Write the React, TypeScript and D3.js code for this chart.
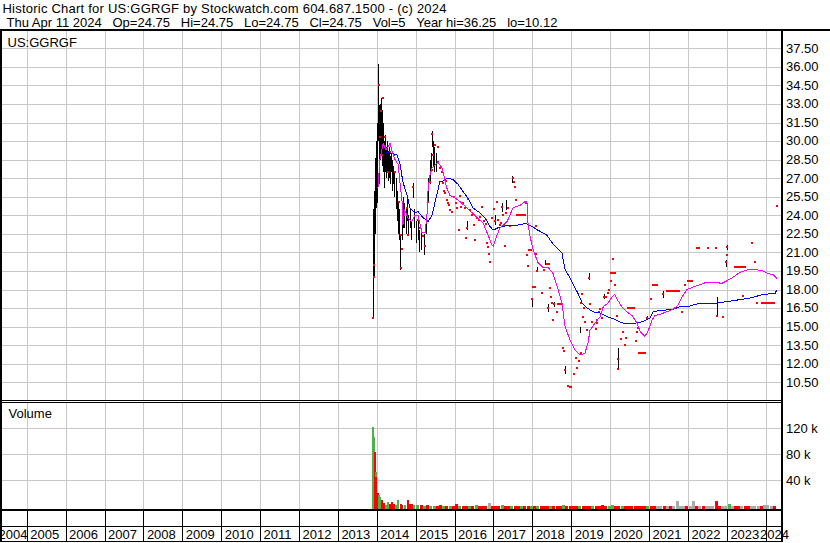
import * as d3 from "d3";

const FONT = "'Liberation Sans', Arial, sans-serif";
const GRID = "#c8c8c8";

const years = [2004, 2005, 2006, 2007, 2008, 2009, 2010, 2011, 2012, 2013, 2014, 2015, 2016, 2017, 2018, 2019, 2020, 2021, 2022, 2023, 2024];
const priceTicks = [10.5, 12, 13.5, 15, 16.5, 18, 19.5, 21, 22.5, 24, 25.5, 27, 28.5, 30, 31.5, 33, 34.5, 36, 37.5];
const volTicks = [40000, 80000, 120000];
const volTickLabels = ["40 k", "80 k", "120 k"];

// black high-low bars: [year, high, low]
const rangeBars: [number, number, number][] = [
  [2013.9, 24.5, 15.6], [2013.93, 26.0, 19.0], [2013.95, 28.6, 22.5], [2013.98, 30.0, 24.6],
  [2014.01, 31.5, 25.0], [2014.03, 36.25, 30.0], [2014.06, 32.9, 26.5], [2014.08, 33.0, 28.5],
  [2014.11, 33.5, 29.0], [2014.13, 32.5, 28.0], [2014.16, 31.5, 27.5], [2014.19, 30.0, 26.2],
  [2014.21, 30.5, 27.5], [2014.24, 29.5, 27.0], [2014.26, 30.0, 27.5], [2014.29, 29.2, 26.8],
  [2014.31, 29.5, 27.0], [2014.34, 28.8, 26.5], [2014.37, 29.0, 27.5], [2014.39, 28.5, 26.0],
  [2014.42, 28.0, 26.5], [2014.44, 27.5, 25.5], [2014.49, 27.0, 24.5], [2014.52, 26.0, 23.5],
  [2014.55, 25.0, 22.5], [2014.57, 24.5, 22.0], [2014.6, 22.5, 19.6], [2014.65, 24.5, 22.0],
  [2014.67, 25.5, 23.0], [2014.7, 25.0, 23.0], [2014.75, 24.5, 22.5], [2014.78, 25.5, 23.5],
  [2014.8, 24.0, 22.5], [2014.85, 24.5, 23.0], [2014.88, 23.5, 22.0], [2014.93, 26.6, 25.4],
  [2014.96, 24.5, 23.0], [2015.01, 23.5, 21.8], [2015.06, 23.5, 22.0], [2015.08, 22.8, 21.0],
  [2015.14, 23.0, 21.2], [2015.21, 22.5, 20.8], [2015.27, 24.0, 22.5], [2015.32, 27.0, 25.0],
  [2015.37, 28.5, 26.5], [2015.39, 29.0, 27.5], [2015.42, 30.8, 29.5], [2015.45, 30.0, 28.0],
  [2015.47, 29.5, 27.5], [2015.52, 29.0, 27.5], [2016.32, 23.5, 22.8], [2017.04, 24.0, 23.2],
  [2017.22, 25.0, 24.3], [2017.32, 25.2, 24.4], [2017.48, 27.2, 26.6], [2017.99, 17.3, 16.6],
  [2018.12, 19.8, 19.4], [2018.32, 20.4, 20.0], [2018.4, 16.8, 16.2], [2018.55, 17.0, 16.6],
  [2018.84, 11.8, 11.2], [2019.22, 15.0, 14.5], [2019.46, 19.3, 18.8], [2019.84, 17.6, 17.2],
  [2020.19, 13.3, 11.5], [2020.95, 15.9, 15.5], [2021.36, 17.9, 17.3], [2022.75, 17.4, 15.8],
  [2022.98, 20.4, 19.8], [2023.0, 21.6, 21.2],
];

// red close marks: [year, price]
const closeMarks: [number, number][] = [
  [2013.9, 15.7], [2013.93, 19.0], [2013.93, 20.0], [2014.06, 34.5], [2014.17, 33.5], [2014.11, 32.4],
  [2014.08, 30.3], [2014.21, 30.3], [2014.13, 28.9], [2014.34, 29.1], [2014.28, 27.5], [2014.47, 27.5],
  [2014.44, 28.9], [2014.56, 25.1], [2014.61, 22.4], [2014.61, 19.7], [2014.66, 21.3], [2014.77, 24.6],
  [2014.81, 22.4], [2014.94, 26.3], [2015.07, 23.6], [2015.11, 23.0], [2015.19, 22.3], [2015.24, 21.5],
  [2015.32, 25.1], [2015.37, 26.7], [2015.41, 27.7], [2015.45, 28.9], [2015.5, 29.7], [2015.42, 30.6],
  [2015.58, 28.3], [2015.58, 29.5], [2015.62, 27.8], [2015.68, 27.5], [2015.69, 26.6], [2015.73, 26.0],
  [2015.75, 25.8], [2015.78, 26.8], [2015.8, 25.2], [2015.83, 25.0], [2015.86, 24.8], [2015.88, 24.4],
  [2015.93, 24.3], [2015.98, 25.5], [2016.04, 25.0], [2016.06, 24.6], [2016.11, 22.8], [2016.14, 25.6],
  [2016.16, 24.7], [2016.22, 25.0], [2016.27, 24.6], [2016.29, 22.2], [2016.32, 23.0], [2016.34, 25.3],
  [2016.4, 24.4], [2016.45, 24.0], [2016.5, 23.2], [2016.52, 22.0], [2016.58, 23.8], [2016.63, 23.6],
  [2016.65, 23.9], [2016.7, 24.7], [2016.76, 23.5], [2016.81, 23.3], [2016.83, 21.8], [2016.86, 21.4],
  [2016.88, 20.9], [2016.91, 20.2], [2016.96, 23.8], [2017.01, 24.5], [2017.04, 23.5], [2017.09, 25.1],
  [2017.12, 23.6], [2017.17, 23.2], [2017.19, 23.4], [2017.22, 24.7], [2017.24, 24.0], [2017.27, 23.2],
  [2017.3, 21.5], [2017.32, 24.2], [2017.37, 24.6], [2017.42, 23.1], [2017.5, 27.0], [2017.53, 26.7],
  [2017.55, 26.3], [2017.57, 25.2], [2017.6, 24.0], [2017.66, 24.0], [2017.71, 24.0], [2017.76, 24.0],
  [2017.81, 24.0], [2017.84, 25.0], [2017.86, 20.8], [2017.89, 19.9], [2017.91, 21.2], [2017.96, 21.2],
  [2017.99, 17.2], [2018.02, 18.2], [2018.07, 18.2], [2018.09, 23.1], [2018.1, 20.9], [2018.12, 19.5],
  [2018.25, 17.7], [2018.3, 19.6], [2018.37, 20.1], [2018.43, 20.1], [2018.4, 16.5], [2018.45, 18.1],
  [2018.48, 17.4], [2018.5, 16.9], [2018.53, 15.5], [2018.56, 16.8], [2018.63, 16.2], [2018.66, 16.8],
  [2018.71, 16.8], [2018.76, 16.8], [2018.79, 13.3], [2018.81, 13.0], [2018.84, 11.5], [2018.92, 10.2],
  [2018.97, 10.12], [2019.0, 10.15], [2019.07, 11.2], [2019.12, 12.5], [2019.15, 11.65], [2019.2, 12.2],
  [2019.24, 12.9], [2019.25, 16.9], [2019.28, 17.6], [2019.3, 15.8], [2019.33, 16.5], [2019.35, 15.4],
  [2019.4, 14.7], [2019.46, 18.9], [2019.48, 16.8], [2019.53, 15.4], [2019.64, 14.8], [2019.65, 15.3],
  [2019.66, 15.5], [2019.71, 16.2], [2019.74, 16.4], [2019.79, 15.7], [2019.84, 17.4], [2019.89, 17.4],
  [2019.94, 17.7], [2019.97, 18.0], [2020.02, 19.3], [2020.02, 18.7], [2020.06, 20.5], [2020.07, 19.3],
  [2020.12, 19.3], [2020.12, 18.4], [2020.17, 15.9], [2020.2, 12.4], [2020.2, 11.6], [2020.28, 14.0],
  [2020.33, 14.6], [2020.38, 13.5], [2020.41, 14.1], [2020.46, 16.5], [2020.51, 16.5], [2020.56, 16.5],
  [2020.61, 16.5], [2020.66, 13.8], [2020.69, 14.6], [2020.72, 14.9], [2020.74, 12.9], [2020.79, 12.9],
  [2020.84, 12.9], [2020.9, 12.9], [2020.95, 15.7], [2021.05, 17.2], [2021.1, 18.4], [2021.15, 18.4],
  [2021.2, 18.4], [2021.36, 17.6], [2021.46, 17.9], [2021.51, 17.9], [2021.56, 17.9], [2021.61, 17.9],
  [2021.67, 17.9], [2021.72, 17.9], [2021.77, 17.9], [2021.85, 16.2], [2021.92, 18.4], [2022.0, 18.7],
  [2022.05, 18.7], [2022.1, 18.7], [2022.23, 21.35], [2022.28, 21.35], [2022.51, 21.35], [2022.72, 21.35],
  [2022.75, 15.9], [2022.9, 15.8], [2022.98, 20.2], [2023.0, 21.4], [2023.0, 20.8], [2023.21, 19.8],
  [2023.26, 19.8], [2023.31, 19.8], [2023.36, 19.8], [2023.41, 19.8], [2023.46, 19.8], [2023.41, 17.5],
  [2023.64, 21.8], [2023.72, 20.2], [2023.77, 16.9], [2023.9, 16.95], [2023.95, 16.95], [2024.0, 16.95],
  [2024.05, 16.95], [2024.11, 16.95], [2024.16, 16.95], [2024.21, 16.95], [2024.29, 24.75],
];

// magenta (short) moving average
const maShort: [number, number][] = [
  [2014.03, 26.2], [2014.08, 28.5], [2014.16, 29.8], [2014.24, 29.3], [2014.34, 29.8], [2014.42, 28.9],
  [2014.47, 28.5], [2014.55, 28.1], [2014.6, 26.5], [2014.65, 25.1], [2014.67, 23.2], [2014.72, 24.4],
  [2014.8, 23.8], [2014.9, 23.5], [2014.98, 24.0], [2015.06, 24.0], [2015.16, 22.6], [2015.24, 22.6],
  [2015.29, 24.0], [2015.32, 26.2], [2015.37, 27.3], [2015.42, 27.8], [2015.5, 28.1], [2015.57, 28.3],
  [2015.68, 27.8], [2015.8, 26.2], [2015.88, 25.6], [2016.01, 25.4], [2016.14, 25.1], [2016.32, 24.6],
  [2016.45, 24.2], [2016.58, 23.8], [2016.73, 23.4], [2016.86, 22.4], [2016.96, 21.6], [2016.99, 21.5],
  [2017.09, 22.4], [2017.17, 23.0], [2017.35, 23.5], [2017.42, 24.0], [2017.5, 24.6], [2017.68, 24.8],
  [2017.81, 25.1], [2017.86, 25.1], [2017.89, 23.2], [2017.94, 22.3], [2018.02, 21.2], [2018.14, 20.2],
  [2018.27, 19.8], [2018.4, 19.8], [2018.53, 19.3], [2018.66, 18.0], [2018.76, 16.9], [2018.84, 15.0],
  [2018.97, 13.9], [2019.1, 13.1], [2019.22, 12.7], [2019.35, 12.85], [2019.43, 13.7], [2019.48, 14.7],
  [2019.61, 15.3], [2019.74, 15.8], [2019.82, 16.6], [2019.94, 16.9], [2020.05, 17.4], [2020.12, 17.6],
  [2020.2, 17.1], [2020.3, 16.6], [2020.43, 16.2], [2020.56, 15.9], [2020.69, 15.3], [2020.77, 14.6],
  [2020.89, 14.2], [2020.97, 14.6], [2021.07, 15.5], [2021.15, 15.9], [2021.28, 16.0], [2021.46, 16.2],
  [2021.61, 16.4], [2021.74, 16.7], [2021.85, 17.4], [2021.97, 18.0], [2022.13, 18.2], [2022.31, 18.4],
  [2022.49, 18.6], [2022.64, 18.6], [2022.87, 18.5], [2023.0, 18.7], [2023.16, 19.0], [2023.34, 19.4],
  [2023.54, 19.6], [2023.77, 19.6], [2023.93, 19.5], [2024.06, 19.3], [2024.19, 19.2], [2024.29, 18.9],
];

// blue (long) moving average
const maLong: [number, number][] = [
  [2014.24, 29.1], [2014.39, 29.0], [2014.52, 28.9], [2014.6, 28.1], [2014.67, 26.7], [2014.78, 25.6],
  [2014.85, 24.6], [2014.98, 24.2], [2015.06, 24.3], [2015.19, 23.8], [2015.32, 23.5], [2015.42, 24.0],
  [2015.5, 25.1], [2015.62, 26.7], [2015.67, 26.7], [2015.8, 27.0], [2015.96, 26.9], [2016.09, 26.5],
  [2016.22, 25.9], [2016.34, 25.4], [2016.47, 24.6], [2016.65, 24.2], [2016.78, 23.8], [2016.91, 23.1],
  [2016.99, 22.8], [2017.12, 23.0], [2017.24, 23.1], [2017.42, 23.2], [2017.6, 23.2], [2017.76, 23.3],
  [2017.86, 23.3], [2017.99, 23.1], [2018.14, 22.8], [2018.37, 22.4], [2018.5, 21.8], [2018.63, 21.35],
  [2018.76, 20.95], [2018.84, 19.6], [2018.92, 19.2], [2019.02, 18.6], [2019.1, 18.1], [2019.17, 17.7],
  [2019.28, 16.9], [2019.41, 16.5], [2019.56, 16.2], [2019.74, 16.1], [2019.92, 15.8], [2020.12, 15.6],
  [2020.3, 15.3], [2020.51, 15.25], [2020.69, 15.3], [2020.84, 15.4], [2021.02, 15.7], [2021.1, 16.2],
  [2021.28, 16.3], [2021.61, 16.4], [2021.79, 16.6], [2021.97, 16.6], [2022.31, 16.9], [2022.75, 16.9],
  [2023.16, 17.1], [2023.59, 17.3], [2023.93, 17.6], [2024.24, 17.7], [2024.29, 18.0],
];

// early volume bars: [year, shares, colour key g/r/s]
const volEarly: [number, number, string][] = [
  [2013.9, 122000, "g"], [2013.935, 107000, "g"], [2013.945, 84000, "r"], [2013.97, 53000, "g"],
  [2013.99, 45000, "r"], [2014.02, 21000, "r"], [2014.05, 17000, "g"], [2014.09, 15000, "g"],
  [2014.14, 10000, "r"], [2014.19, 5000, "r"], [2014.24, 2000, "g"], [2014.29, 7000, "g"],
  [2014.33, 3000, "r"], [2014.39, 7000, "r"], [2014.45, 4000, "r"], [2014.5, 2000, "g"],
  [2014.55, 10000, "g"], [2014.61, 3000, "r"], [2014.66, 2000, "r"], [2014.72, 1500, "g"],
  [2014.79, 10000, "r"], [2014.86, 4000, "r"], [2014.9, 3000, "r"], [2014.95, 2000, "g"],
];

// monthly volume from Jan 2015, thousands of shares
const volMonthlyStart = 2015;
const volMonthly = [
  2, 1.5, 1, 1.5, 1, 1, 1, 1.5, 1, 1, 1, 1,
  3.5, 1, 1, 1, 1, 1, 2, 1, 1, 1, 5, 1,
  1, 1, 2, 1, 1, 1, 1, 1, 1, 1, 1, 1,
  1, 1, 1, 1, 1, 1, 1, 1, 1, 2, 1, 1,
  1, 1, 1, 1, 1, 1, 1, 1, 1, 2, 1, 1,
  2, 1, 1, 1, 1, 1, 1, 1, 1, 1, 1, 1,
  1, 1, 1, 1, 1, 1, 1, 1, 8, 1, 1, 1,
  1, 8, 1, 1, 1, 1, 1, 1, 8, 1, 1, 1,
  3.5, 1, 1, 1, 1, 1, 1, 1, 1, 1, 1, 1.5,
  2, 1, 1,
];
const volMonthlyColor =
  "grgrggrrgrgr" + "rgrrgrgrrrsr" + "rrgrrgrrgrrg" + "rgrrrgrrrgrr" + "rrgrrrgrrrrg" +
  "grrgrrrrrrrg" + "rrssrsrssssr" + "ssrsrsssrrss" + "gsrrsrrsssrs" + "ssr";

const volColors: Record<string, string> = { g: "#4cb34c", r: "#ff0000", s: "#aaaaaa" };

const W = 830;
const H = 543;
const AXIS_X = 781;

export default function App() {
  const x = d3.scaleLinear().domain([2005, 2024]).range([26.7, 765.8]);
  const yP = d3.scaleLinear().domain([10.5, 37.5]).range([382.3, 48.3]);
  const yV = d3.scaleLinear().domain([0, 120000]).range([506.3, 428.3]);

  const line = d3
    .line<[number, number]>()
    .x((d) => x(d[0]))
    .y((d) => yP(d[1]));

  const px = (v: number) => Math.round(v) + 0.5;

  const volBars = [
    ...volEarly.map(([yr, v, c]) => ({ yr, v, c, w: 2 })),
    ...volMonthly.map((k, i) => ({
      yr: volMonthlyStart + (i + 0.5) / 12,
      v: k * 1000,
      c: volMonthlyColor[i],
      w: 3,
    })),
  ];

  const gridYears = years.filter((y) => y >= 2005);

  return (
    <svg
      width={W}
      height={H}
      style={{ position: "absolute", left: 0, top: 0, background: "#fff" }}
      fontFamily={FONT}
    >
      <rect width={W} height={H} fill="#fff" />

      {/* header */}
      <text x={2.5} y={12.5} fontSize={13} fill="#000" textLength={444} lengthAdjust="spacing">
        Historic Chart for US:GGRGF by Stockwatch.com 604.687.1500 - (c) 2024
      </text>
      <text x={6.5} y={26.5} fontSize={13} fill="#000" style={{ whiteSpace: "pre" }}>
        {"Thu Apr 11 2024   Op=24.75   Hi=24.75   Lo=24.75   Cl=24.75   Vol=5   Year hi=36.25   lo=10.12"}
      </text>

      {/* grid */}
      <g stroke={GRID} strokeWidth={1} shapeRendering="crispEdges">
        {priceTicks.map((t) => (
          <line key={"hp" + t} x1={2} x2={AXIS_X} y1={px(yP(t))} y2={px(yP(t))} />
        ))}
        {gridYears.map((yr) => (
          <line key={"vp" + yr} x1={px(x(yr))} x2={px(x(yr))} y1={31} y2={400} />
        ))}
        {volTicks.map((t) => (
          <line key={"hv" + t} x1={2} x2={AXIS_X} y1={px(yV(t))} y2={px(yV(t))} />
        ))}
        {gridYears.map((yr) => (
          <line key={"vv" + yr} x1={px(x(yr))} x2={px(x(yr))} y1={403} y2={509} />
        ))}
      </g>

      {/* high-low bars */}
      <g fill="#000" shapeRendering="crispEdges">
        {rangeBars.map(([yr, hi, lo], i) => (
          <rect
            key={i}
            x={Math.round(x(yr))}
            y={Math.round(yP(hi))}
            width={1}
            height={Math.max(1, Math.round(yP(lo)) - Math.round(yP(hi)))}
          />
        ))}
      </g>

      {/* closes */}
      <g fill="#ff0000" shapeRendering="crispEdges">
        {closeMarks.map(([yr, p], i) => (
          <rect key={i} x={Math.round(x(yr)) - 1} y={Math.round(yP(p)) - 1} width={2} height={2} />
        ))}
      </g>

      {/* moving averages */}
      <path d={line(maLong) ?? ""} fill="none" stroke="#0000ff" strokeWidth={1} shapeRendering="crispEdges" />
      <path d={line(maShort) ?? ""} fill="none" stroke="#ff00ff" strokeWidth={1} shapeRendering="crispEdges" />

      {/* volume */}
      <g shapeRendering="crispEdges">
        {volBars.map((b, i) => (
          <rect
            key={i}
            x={Math.round(x(b.yr)) - 1}
            y={Math.round(yV(b.v))}
            width={b.w}
            height={508.7 - Math.round(yV(b.v))}
            fill={volColors[b.c]}
          />
        ))}
      </g>

      <text x={7.5} y={46.5} fontSize={13} fill="#000">US:GGRGF</text>
      <text x={8.5} y={418.3} fontSize={13} fill="#000">Volume</text>

      {/* frame */}
      <g fill="#000" shapeRendering="crispEdges">
        <rect x={0} y={29} width={W} height={2} />
        <rect x={0} y={29} width={2} height={513} />
        <rect x={AXIS_X} y={29} width={2} height={513} />
        <rect x={0} y={400} width={AXIS_X} height={1} />
        <rect x={0} y={402} width={AXIS_X} height={1} />
        <rect x={0} y={509} width={AXIS_X + 2} height={2} />
        <rect x={0} y={526} width={AXIS_X} height={1} />
        <rect x={0} y={541} width={AXIS_X + 2} height={1} />
        {gridYears.map((yr) => (
          <rect key={"yt" + yr} x={Math.round(x(yr))} y={511} width={1} height={30} />
        ))}
      </g>

      {/* year labels */}
      {years.map((yr) => (
        <text
          key={"yl" + yr}
          x={Math.min(760, Math.max(-1.5, x(yr) + 3.5))}
          y={538.8}
          fontSize={13}
          fill="#000"
        >
          {yr}
        </text>
      ))}

      {/* price axis labels */}
      {priceTicks.map((t) => (
        <text key={"pl" + t} x={786} y={yP(t) + 4.4} fontSize={13} fill="#000">
          {t.toFixed(2)}
        </text>
      ))}

      {/* volume axis labels */}
      {volTicks.map((t, i) => (
        <text key={"vl" + t} x={786} y={yV(t) + 4.4} fontSize={13} fill="#000">
          {volTickLabels[i]}
        </text>
      ))}
    </svg>
  );
}
